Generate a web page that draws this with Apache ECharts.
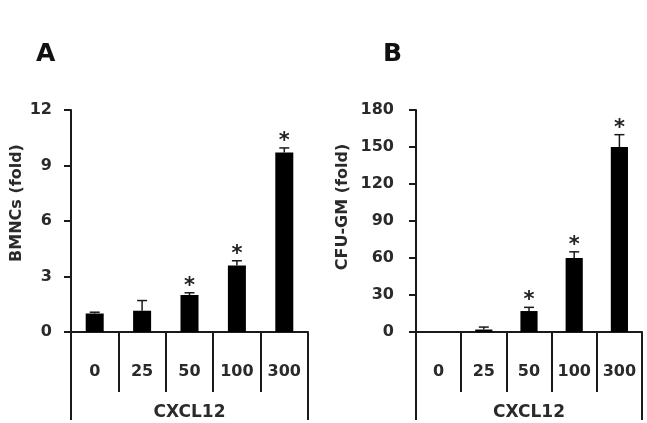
<!DOCTYPE html>
<html>
<head>
<meta charset="utf-8">
<script src="https://cdn.jsdelivr.net/npm/echarts@6/dist/echarts.min.js"></script>
<style>
  html, body { margin: 0; padding: 0; background: #fff; }
  #chart { width: 647px; height: 423px; }
</style>
</head>
<body>
<div id="chart"></div>
<script>
// data
const doses = ['0', '25', '50', '100', '300']

const bmncMean = [1.0, 1.15, 2.0, 3.6, 9.7]
const bmncErrTop = [1.07, 1.7, 2.12, 3.85, 9.95]
const bmncStar = [false, false, true, true, true]

const cfuMean = [0, 2, 17, 60, 150]
const cfuErrTop = [0, 4, 20, 65, 160]
const cfuStar = [false, false, true, true, true]

const yTicksA = { min: 0, max: 12, interval: 3 }
const yTicksB = { min: 0, max: 180, interval: 30 }

const ink = '#1a1a1a'
const font = 'DejaVu Sans'

let myChart = echarts.init(document.getElementById('chart'))

function errSeries(idx, tops, means, stars) {
  return {
    type: 'custom',
    xAxisIndex: idx * 2,
    yAxisIndex: idx,
    z: 3,
    data: means.map((m, i) => [i, m, tops[i], stars[i] ? 1 : 0]),
    renderItem: function (params, api) {
      let i = api.value(0)
      let base = api.coord([i, api.value(1)])
      let top = api.coord([i, api.value(2)])
      let kids = []
      if (api.value(2) > api.value(1)) {
        kids.push({ type: 'line', shape: { x1: top[0], y1: base[1], x2: top[0], y2: top[1] },
          style: { stroke: ink, lineWidth: 1.5 } })
        kids.push({ type: 'line', shape: { x1: top[0] - 5, y1: top[1], x2: top[0] + 5, y2: top[1] },
          style: { stroke: ink, lineWidth: 1.5 } })
      }
      if (api.value(3)) {
        kids.push({ type: 'text', x: top[0], y: top[1] + 4,
          style: { text: '*', fontSize: 21, fontWeight: 'bold', fontFamily: font, fill: '#222', align: 'center', verticalAlign: 'bottom' } })
      }
      return { type: 'group', children: kids }
    }
  }
}

function catAxis(grid) {
  return {
    type: 'category', gridIndex: grid, data: doses, position: 'bottom',
    axisLine: { lineStyle: { color: ink, width: 2 } },
    axisTick: { show: true, interval: 0, length: 60, lineStyle: { color: ink, width: 2 } },
    axisLabel: { margin: 32, interval: 0, color: '#2a2a2a', fontSize: 16, fontWeight: 'bold', fontFamily: font },
    splitLine: { show: false }
  }
}

function frameAxis(grid) {
  return {
    type: 'value', gridIndex: grid, min: 0, max: 1, interval: 1, position: 'bottom',
    name: 'CXCL12', nameLocation: 'middle', nameGap: 72,
    nameTextStyle: { color: '#2a2a2a', fontSize: 17, fontWeight: 'bold', fontFamily: font },
    axisLine: { show: false },
    axisTick: { show: true, length: 88, lineStyle: { color: ink, width: 2 } },
    axisLabel: { show: false },
    splitLine: { show: false }
  }
}

function valAxis(grid, t, gap) {
  return {
    type: 'value', gridIndex: grid, min: t.min, max: t.max, interval: t.interval,
    axisLine: { show: true, lineStyle: { color: ink, width: 2 } },
    axisTick: { show: true, length: 7, lineStyle: { color: ink, width: 2 } },
    axisLabel: { margin: gap, color: '#2a2a2a', fontSize: 16, fontWeight: 'bold', fontFamily: font },
    splitLine: { show: false }
  }
}

let option = {
  animation: false,
  backgroundColor: '#fff',
  grid: [
    { left: 71, top: 110, width: 237, height: 222, containLabel: false, outerBoundsMode: 'none' },
    { left: 416, top: 110, width: 226, height: 222, containLabel: false, outerBoundsMode: 'none' }
  ],
  xAxis: [catAxis(0), frameAxis(0), catAxis(1), frameAxis(1)],
  yAxis: [valAxis(0, yTicksA, 19), valAxis(1, yTicksB, 22)],
  graphic: [
    { type: 'text', x: 36, y: 42, style: { text: 'A', fontSize: 25, fontWeight: 'bold', fontFamily: font, fill: '#111' } },
    { type: 'text', x: 383, y: 42, style: { text: 'B', fontSize: 25, fontWeight: 'bold', fontFamily: font, fill: '#111' } },
    { type: 'text', x: 17, y: 203, rotation: Math.PI / 2,
      style: { text: 'BMNCs (fold)', fontSize: 16, fontWeight: 'bold', fontFamily: font, fill: '#2a2a2a', align: 'center', verticalAlign: 'middle' } },
    { type: 'text', x: 343, y: 207, rotation: Math.PI / 2,
      style: { text: 'CFU-GM (fold)', fontSize: 16, fontWeight: 'bold', fontFamily: font, fill: '#2a2a2a', align: 'center', verticalAlign: 'middle' } }
  ],
  series: [
    { type: 'bar', xAxisIndex: 0, yAxisIndex: 0, data: bmncMean, barWidth: '38%', itemStyle: { color: '#000' } },
    errSeries(0, bmncErrTop, bmncMean, bmncStar),
    { type: 'bar', xAxisIndex: 2, yAxisIndex: 1, data: cfuMean, barWidth: '38%', itemStyle: { color: '#000' } },
    errSeries(1, cfuErrTop, cfuMean, cfuStar)
  ]
}

myChart.setOption(option)
</script>
</body>
</html>
